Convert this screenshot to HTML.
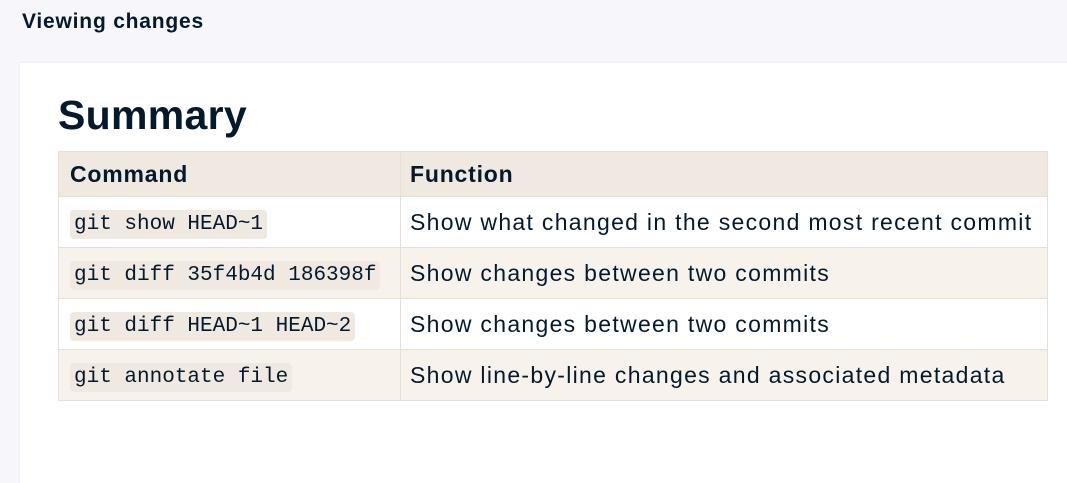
<!DOCTYPE html>
<html><head><style>
body{margin:0;width:1067px;height:462px;background:#f6f6fb;font-family:"Liberation Sans",sans-serif;color:#05192d;position:relative;overflow:hidden}
.t{position:absolute;left:22px;top:10px;font-weight:bold;font-size:21px;letter-spacing:0.8px}
.card{position:absolute;left:20px;top:63px;width:1060px;height:420px;background:#fff;box-shadow:0 0 3px rgba(0,0,0,.08)}
h1{position:absolute;left:58px;top:92px;margin:0;font-size:41px;font-weight:bold;letter-spacing:0.3px}
table{position:absolute;left:58px;top:151px;border-collapse:collapse;width:990px;font-size:23px;letter-spacing:1.3px;table-layout:fixed}
td,th{border:1px solid #e5e0d8;padding:0 9px;text-align:left;height:50px;white-space:nowrap}
th{background:#efe9e2;height:44px;font-weight:bold;letter-spacing:0.8px}
tr.e td{background:#f7f3ec}
col.a{width:342px}
td:first-child,th:first-child{padding-left:11px}
code{font-family:"Liberation Mono",monospace;font-size:21px;letter-spacing:0;background:#efe9e2;border-radius:4px;padding:3px 4px}
</style></head><body>
<div class="t">Viewing changes</div>
<div class="card"></div>
<h1>Summary</h1>
<table>
<colgroup><col class="a"><col></colgroup>
<tr><th>Command</th><th>Function</th></tr>
<tr><td><code>git show HEAD~1</code></td><td>Show what changed in the second most recent commit</td></tr>
<tr class="e"><td><code>git diff 35f4b4d 186398f</code></td><td>Show changes between two commits</td></tr>
<tr><td><code>git diff HEAD~1 HEAD~2</code></td><td>Show changes between two commits</td></tr>
<tr class="e"><td><code>git annotate file</code></td><td>Show line-by-line changes and associated metadata</td></tr>
</table>
</body></html>
